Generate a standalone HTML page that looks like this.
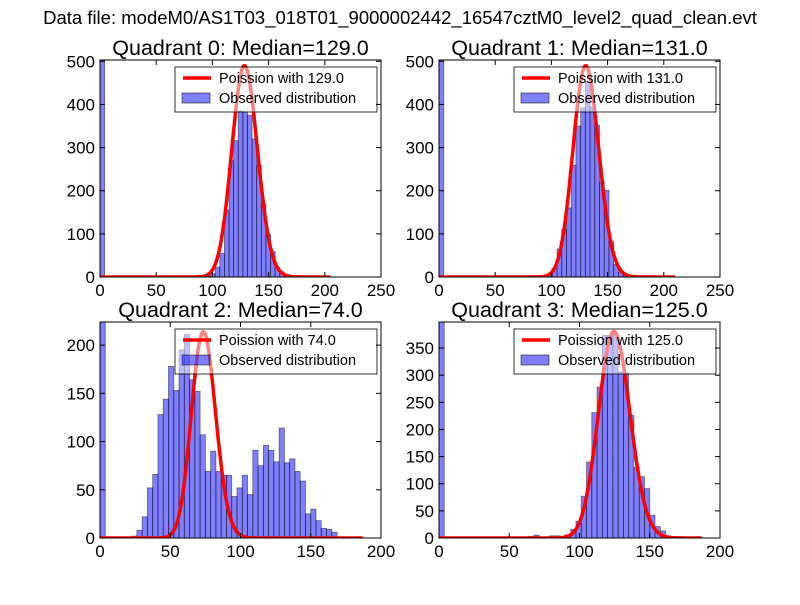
<!DOCTYPE html>
<html><head><meta charset="utf-8"><style>
body{margin:0;background:#fff;}
svg text{font-family:"Liberation Sans",sans-serif;}
</style></head><body>
<svg id="fig" width="800" height="600" xmlns="http://www.w3.org/2000/svg">
<rect width="800" height="600" fill="#fff"/>
<text x="400" y="24" font-size="18.5" text-anchor="middle">Data file: modeM0/AS1T03_018T01_9000002442_16547cztM0_level2_quad_clean.evt</text>
</svg>
<script>
// Panel titles and medians
const titles = ["Quadrant 0: Median=129.0","Quadrant 1: Median=131.0","Quadrant 2: Median=74.0","Quadrant 3: Median=125.0"];
const medians = [129.0,131.0,74.0,125.0];
const curvePeaks = [490,490,214,381];
const curveEnds = [205,210,187,187];
const binWidths = [4.1,4.2,3.75,3.75];
const xMaxes = [250,250,200,200];
const yMaxes = [503,503,224,398];
const xTicks0 = [0,50,100,150,200,250];
const xTicks1 = [0,50,100,150,200];
const yTicksA = [0,100,200,300,400,500];
const yTicksB = [0,50,100,150,200];
const yTicksC = [0,50,100,150,200,250,300,350];
// counts per bin index (sparse: [binIndex, count])
const counts0 = [[0,520],[16,3],[19,2],[23,2],[24,8],[25,23],[26,55],[27,155],[28,270],[29,316],[30,385],[31,383],[32,375],[33,320],[34,260],[35,170],[36,100],[37,59],[38,22],[39,12],[40,5],[41,3],[42,2],[43,1]];
const counts1 = [[0,520],[17,3],[19,2],[20,2],[22,4],[23,8],[24,20],[25,65],[26,110],[27,160],[28,259],[29,350],[30,392],[31,452],[32,394],[33,352],[34,221],[35,201],[36,82],[37,29],[38,12],[39,7],[40,3],[41,1]];
const counts2 = [[0,230],[5,1],[6,2],[7,8],[8,22],[9,52],[10,66],[11,128],[12,144],[13,178],[14,153],[15,195],[16,211],[17,164],[18,152],[19,107],[20,69],[21,90],[22,69],[23,65],[24,65],[25,43],[26,52],[27,65],[28,45],[29,91],[30,75],[31,96],[32,91],[33,79],[34,114],[35,78],[36,82],[37,69],[38,59],[39,25],[40,30],[41,18],[42,10],[43,9],[44,6],[45,1],[46,1]];
const counts3 = [[0,420],[15,1],[17,3],[18,5],[21,4],[22,4],[24,6],[25,16],[26,31],[27,77],[28,140],[29,231],[30,278],[31,373],[32,373],[33,375],[34,306],[35,304],[36,226],[37,130],[38,113],[39,91],[40,42],[41,21],[42,13],[43,4],[44,2],[45,1]];

const allCounts=[counts0,counts1,counts2,counts3];
const allXT=[xTicks0,xTicks0,xTicks1,xTicks1];
const allYT=[yTicksA,yTicksA,yTicksB,yTicksC];
const boxes=[[100,60,281,217],[439,60,281,217],[100,322,281,216],[439,322,281,216]];
const NS="http://www.w3.org/2000/svg";
const svg=document.getElementById('fig');
function mk(tag,attrs,parent){const e=document.createElementNS(NS,tag);for(const k in attrs)e.setAttribute(k,attrs[k]);(parent||svg).appendChild(e);return e;}
function lgamma(z){const g=7,c=[0.99999999999980993,676.5203681218851,-1259.1392167224028,771.32342877765313,-176.61502916214059,12.507343278686905,-0.13857109526572012,9.9843695780195716e-6,1.5056327351493116e-7];z-=1;let x=c[0];for(let i=1;i<g+2;i++)x+=c[i]/(z+i);const t=z+g+0.5;return 0.5*Math.log(2*Math.PI)+(z+0.5)*Math.log(t)-t+Math.log(x);}
for(let p=0;p<4;p++){
  const [bx,by,bw,bh]=boxes[p];
  const g=mk('g',{});
  
  
  const cid='clip'+p;
  const cp=mk('clipPath',{id:cid},g);mk('rect',{x:bx,y:by,width:bw,height:bh},cp);
  const sx=v=>bx+v/xMaxes[p]*bw, sy=v=>by+bh-v/yMaxes[p]*bh;
  const plot=mk('g',{'clip-path':'url(#'+cid+')'},g);
  for(const [i,c] of allCounts[p]){
    const x0=sx(i*binWidths[p]),x1=sx((i+1)*binWidths[p]);
    const r=mk('rect',{x:x0,y:sy(c),width:x1-x0,height:sy(0)-sy(c),fill:'rgba(0,0,255,0.5)',stroke:'rgba(0,0,0,0.5)','stroke-width':0.8},plot);
    
    
  }
  const lam=medians[p], A=curvePeaks[p]*Math.sqrt(2*Math.PI*lam);
  let d='';
  for(let k=0;k<=curveEnds[p];k++){const pm=Math.exp(k*Math.log(lam)-lam-lgamma(k+1));d+=(k?'L':'M')+sx(k).toFixed(1)+','+sy(A*pm).toFixed(1);}
  const cl=mk('path',{d:d,fill:'none',stroke:'#f00','stroke-width':3.5,'stroke-linejoin':'round'},plot);
  
  
  // legend
  const lx=bx+bw-206, ly=by+7;
  const lg=mk('g',{},g);
  
  
  mk('rect',{x:lx,y:ly,width:202,height:45,fill:'rgba(255,255,255,0.5)',stroke:'#000','stroke-width':0.8},lg);
  mk('line',{x1:lx+8,y1:ly+11,x2:lx+36,y2:ly+11,stroke:'#f00','stroke-width':3.5},lg);
  const t1=mk('text',{x:lx+44,y:ly+16,'font-size':14.5},lg);t1.textContent='Poission with '+lam.toFixed(1);
  
  
  mk('rect',{x:lx+7,y:ly+26,width:28,height:10,fill:'rgba(0,0,255,0.5)',stroke:'rgba(0,0,0,0.5)'},lg);
  const t2=mk('text',{x:lx+44,y:ly+36,'font-size':14.5},lg);t2.textContent='Observed distribution';
  
  
  mk('rect',{x:bx,y:by,width:bw,height:bh,fill:'none',stroke:'#000','stroke-width':1},g);
  for(const v of allXT[p]){const x=sx(v);
    mk('line',{x1:x,y1:by+bh,x2:x,y2:by+bh-5,stroke:'#000'},g);mk('line',{x1:x,y1:by,x2:x,y2:by+5,stroke:'#000'},g);
    const t=mk('text',{x:x,y:by+bh+19,'font-size':17,'text-anchor':'middle'},g);t.textContent=v;
    
    }
  for(const v of allYT[p]){const y=sy(v);
    mk('line',{x1:bx,y1:y,x2:bx+5,y2:y,stroke:'#000'},g);mk('line',{x1:bx+bw,y1:y,x2:bx+bw-5,y2:y,stroke:'#000'},g);
    const t=mk('text',{x:bx-5,y:y+6,'font-size':17,'text-anchor':'end'},g);t.textContent=v;
    
    }
  const tt=mk('text',{x:bx+bw/2,y:by-5,'font-size':21.5,'text-anchor':'middle'},g);tt.textContent=titles[p];
  
  
}
</script>
</body></html>
